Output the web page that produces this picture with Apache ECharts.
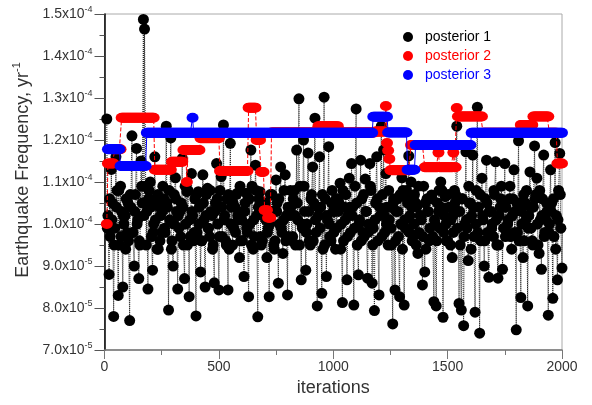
<!DOCTYPE html>
<html>
<head>
<meta charset="utf-8">
<script src="https://cdn.jsdelivr.net/npm/echarts@6/dist/echarts.min.js"></script>
<style>
html,body{margin:0;padding:0;background:#fff;}
#chart{width:592px;height:405px;}
</style>
</head>
<body>
<div id="chart"></div>
<script>
// Values are in units of 1e-5 yr^-1
const iterStart = 10;
const iterStep = 5;
const post1 = [
12.5,10.2, 8.8,9.7, 11.3,10.5, 7.8,9.9, 11.6,10.8, 8.3,9.5, 10.9,10.3, 8.5,10.0, 10.2,10.6, 9.8,9.6,
7.7,10.4, 12.1,9.8, 9.0,10.7, 11.8,10.1, 8.7,9.5, 11.5,10.5, 14.87,14.64, 10.9,10.3, 8.45,10.8, 11.0,9.7,
8.9,10.0, 11.6,10.6, 9.4,9.4, 10.4,10.2, 9.8,10.9, 10.6,9.8, 12.33,10.4, 7.95,10.1, 12.05,9.6, 9.0,10.7,
11.1,10.3, 8.45,9.9, 10.3,10.5, 11.56,9.5, 8.7,10.0, 10.77,10.8, 8.27,9.7, 11.2,10.2, 9.6,10.6, 7.81,9.8,
10.77,10.4, 8.86,9.6, 11.17,10.1, 8.5,10.7, 10.85,9.9, 9.7,10.3, 10.2,9.5, 8.6,10.5, 11.44,10.0, 8.43,10.8,
11.13,9.7, 12.36,10.2, 9.6,10.6, 8.43,9.4, 11.92,10.4, 9.5,9.9, 10.4,10.7, 10.73,10.1, 9.2,9.6, 10.1,10.3,
8.75,10.5, 10.73,9.8, 8.27,10.0, 11.76,10.9, 9.4,9.7, 11.4,10.2, 7.79,10.6, 10.77,9.5, 9.6,10.4, 10.5,10.1,
9.2,9.9, 8.27,10.7, 10.3,10.3, 9.5,9.6, 11.05,10.5, 8.59,10.0, 11.36,9.8, 9.3,10.8, 11.17,10.2, 8.31,9.7,
10.2,10.4, 9.6,10.6, 10.8,9.5, 11.76,10.1, 12.98,10.9, 8.67,9.9, 12.0,10.3, 8.9,10.0, 11.69,9.6, 9.5,10.7,
11.36,10.5, 12.52,9.8, 8.05,10.2, 11.6,10.4, 8.35,9.4, 13.02,10.6, 8.75,10.1, 11.84,9.7, 9.6,10.8, 10.3,10.3,
9.4,9.9, 10.6,10.5, 10.97,10.0, 8.13,9.6, 10.4,10.7, 8.67,10.2, 11.09,9.8, 11.44,10.4, 8.07,10.9, 12.74,9.5,
8.79,10.1, 11.52,10.6, 9.8,9.7, 11.07,10.3, 8.71,10.0, 11.44,10.8, 8.59,9.9, 7.94,10.5, 11.6,9.6, 8.31,10.2,
12.33,10.7, 11.76,9.8, 11.2,10.4, 9.5,10.1, 10.4,9.5, 7.62,10.6, 8.43,10.3, 10.6,9.7, 8.27,10.0, 11.1,10.8,
8.07,9.9, 10.8,10.5, 11.62,10.2, 11.0,9.6, 9.7,10.7, 10.5,10.4, 9.3,9.8, 10.2,10.1, 8.55,10.9, 8.86,9.4,
10.6,10.3, 9.6,10.6, 10.69,9.7, 8.15,10.0, 8.05,10.5, 10.3,9.9, 11.0,10.8, 7.78,10.2, 10.65,9.6, 9.6,10.4,
10.4,10.1, 9.2,9.8, 10.8,10.7, 12.33,10.3, 8.11,9.5, 7.95,10.6, 7.58,10.0, 11.72,9.9, 9.13,10.5, 10.5,10.2,
11.64,9.7, 7.9,10.8, 12.78,10.4, 7.4,9.6, 11.09,10.1, 9.0,10.6, 11.52,9.8, 8.73,10.3, 10.3,10.0, 9.7,10.7,
11.48,9.5, 8.71,10.2, 10.4,10.9, 8.92,9.9, 11.44,10.4, 9.8,10.1, 10.6,9.7, 9.4,10.6, 11.29,10.3, 7.48,9.8,
11.98,10.5, 8.25,10.0, 9.2,9.6, 10.5,10.8, 8.05,10.2, 11.24,9.9, 9.6,10.4, 11.86,10.7, 11.09,9.5, 9.3,10.1,
8.92,10.6, 11.64,9.8, 10.1,10.3, 7.83,10.0, 11.29,10.5, 8.23,9.7, 11.94,10.2, 8.67,10.8, 11.68,9.9,
8.95
];
// extra samples of the dense central band, at iterations 12.5, 22.5, 32.5, ...
const bandStart = 12.5;
const bandStep = 10;
const post1Band = [
9.9,10.6,10.1,9.5,10.4,10.8,9.7,10.2,9.4,10.5,
10.7,9.8,10.3,10.0,9.6,10.9,10.2,9.5,10.6,10.4,
9.8,10.1,10.7,9.6,10.3,9.9,10.5,10.8,9.4,10.0,
10.6,10.2,9.7,10.4,10.9,9.5,10.1,10.3,9.8,10.7,
10.0,9.6,10.5,10.2,9.9,10.8,9.4,10.3,10.6,9.7,
10.4,10.1,9.5,10.7,10.0,10.5,9.8,10.2,10.9,9.6,
10.3,9.9,10.6,9.5,10.1,10.8,10.4,9.7,10.2,10.5,
9.8,10.0,10.7,9.4,10.3,10.6,9.9,10.1,9.6,10.4,
10.8,9.7,10.2,10.5,9.5,10.0,10.9,9.8,10.3,10.6,
9.6,10.1,10.4,9.9,10.7,9.5,10.2,10.0,10.5,9.8,
10.6,10.3,9.4,10.8,10.1,9.7,10.4,10.2,9.9,10.5,
10.0,9.6,10.7,10.3,9.8,10.9,9.5,10.1,10.6,10.4,
9.7,10.2,10.0,10.8,9.9,10.5,9.6,10.3,10.7,9.4,
10.1,10.6,9.8,10.4,10.0,9.5,10.9,10.2,9.7,10.5,
10.3,9.9,10.6,10.1,9.6,10.8,10.4,9.8,10.0,10.7,
9.5,10.2,10.5,9.9,10.3,10.6,9.7,10.1,10.9,9.4,
10.4,10.0,9.8,10.7,10.2,9.6,10.5,10.3,9.9,10.8,
10.1,9.5,10.6,10.4,9.7,10.0,10.9,10.2,9.8,10.5,
9.6,10.3,10.7,10.1,9.9,10.4,9.5,10.6,10.0,10.8,
10.2,9.7,10.5,9.8,10.3,10.6,9.4,10.1,10.7,9.9
];
// [first iteration, last iteration, value] : chain stays at value over this range
const post2Runs = [
[10,10,10.0],[15,40,11.44],[45,70,11.78],[75,215,12.53],[220,290,11.29],[295,340,11.48],
[345,355,11.76],[360,360,11.0],[365,415,11.76],[420,500,12.04],[505,625,11.26],[630,660,12.77],
[665,680,12.0],[685,695,11.24],[700,710,10.33],[715,725,10.15],[730,930,12.18],[935,1020,12.33],
[1025,1180,12.18],[1185,1225,12.2],[1230,1230,12.81],[1235,1235,11.93],[1240,1240,11.75],
[1245,1245,11.55],[1250,1335,11.28],[1340,1395,11.88],[1400,1455,11.35],[1460,1460,11.7],
[1465,1520,11.35],[1525,1525,11.7],[1530,1535,11.35],[1540,1540,12.76],[1545,1650,12.56],
[1655,1815,12.17],[1820,1870,12.36],[1875,1940,12.56],[1945,1975,12.17],[1980,2000,11.44]
];
const post3Runs = [
[15,65,11.78],[70,180,11.38],[185,380,12.17],[385,385,12.53],[390,1170,12.17],
[1175,1235,12.555],[1240,1320,12.18],[1325,1355,11.29],[1360,1600,11.88],[1605,2000,12.17]
];
const seriesNames = ['posterior 1','posterior 2','posterior 3'];
const seriesColors = ['#000000','#ff0000','#0000ff'];
const xTicks = [0, 500, 1000, 1500, 2000];
const yTickLabels = [['7.0x10','-5'],['8.0x10','-5'],['9.0x10','-5'],['1.0x10','-4'],['1.1x10','-4'],
  ['1.2x10','-4'],['1.3x10','-4'],['1.4x10','-4'],['1.5x10','-4']];

function expandRuns(runs){
  const out = [];
  runs.forEach(r => { for (let it = r[0]; it <= r[1]; it += iterStep) out.push([it, r[2]]); });
  return out;
}
const d1 = post1.map((v,i) => [iterStart + i*iterStep, v])
  .concat(post1Band.map((v,j) => [bandStart + j*bandStep, v]))
  .sort((a,b) => a[0]-b[0]);
const d2 = expandRuns(post2Runs);
const d3 = expandRuns(post3Runs);

const FONT = "'Liberation Sans', Arial, sans-serif";
const chart = echarts.init(document.getElementById('chart'), null, {renderer:'canvas'});
chart.setOption({
  animation:false,
  backgroundColor:'#fff',
  textStyle:{fontFamily:FONT},
  grid:{left:104.5, right:30, top:14, bottom:55, show:true, borderColor:'#aaa', borderWidth:1, containLabel:false, outerBoundsMode:'none'},
  legend:{
    orient:'vertical', left:398, top:25, itemWidth:24, itemHeight:10, itemGap:5, icon:'circle',
    textStyle:{fontFamily:FONT, fontSize:14},
    data:seriesNames.map((n,i)=>({name:n, textStyle:{color:seriesColors[i]}}))
  },
  xAxis:{
    type:'value', min:xTicks[0], max:xTicks[xTicks.length-1], interval:xTicks[1]-xTicks[0],
    axisLine:{show:true, lineStyle:{color:'#777', width:1.5}},
    axisTick:{show:true, length:9, lineStyle:{color:'#777'}},
    minorTick:{show:true, splitNumber:2, length:5, lineStyle:{color:'#777'}},
    splitLine:{show:false},
    axisLabel:{margin:10, fontSize:14, color:'#333', fontFamily:FONT, formatter:function(v){return String(v);}},
    name:'iterations', nameLocation:'middle', nameGap:27,
    nameTextStyle:{fontSize:18, color:'#333', fontFamily:FONT}
  },
  yAxis:{
    type:'value', min:7, max:15, interval:1,
    axisLine:{show:true, lineStyle:{color:'#000', width:1.5}},
    axisTick:{show:true, length:10, lineStyle:{color:'#555'}},
    minorTick:{show:true, splitNumber:2, length:5, lineStyle:{color:'#555'}},
    splitLine:{show:false},
    axisLabel:{
      margin:12, color:'#333', fontFamily:FONT,
      formatter:function(v){ const t = yTickLabels[Math.round(v-7)]; return t ? '{m|'+t[0]+'}{s|'+t[1]+'}' : ''; },
      rich:{ m:{fontSize:14, lineHeight:18, color:'#333', fontFamily:FONT},
             s:{fontSize:9, lineHeight:10, verticalAlign:'top', color:'#333', fontFamily:FONT} }
    },
    name:'{a|Earthquake Frequency, yr}{b|-1}', nameLocation:'middle', nameGap:70,
    nameTextStyle:{
      padding:[0,0,0,24],
      rich:{ a:{fontSize:18, lineHeight:22, color:'#333', fontFamily:FONT},
             b:{fontSize:11, lineHeight:12, verticalAlign:'top', color:'#333', fontFamily:FONT} }
    }
  },
  series:[
    {name:seriesNames[0], type:'line', data:d1, symbol:'circle', symbolSize:11, showAllSymbol:true,
     itemStyle:{color:seriesColors[0]}, lineStyle:{color:'#222', width:1, type:'dotted'}, z:2},
    {name:seriesNames[1], type:'line', data:d2, symbol:'circle', symbolSize:[12,10], showAllSymbol:true,
     itemStyle:{color:seriesColors[1]}, lineStyle:{color:'#ff0000', width:1, type:'dashed'}, z:3},
    {name:seriesNames[2], type:'line', data:d3, symbol:'circle', symbolSize:[12,10], showAllSymbol:true,
     itemStyle:{color:seriesColors[2]}, lineStyle:{color:'#0000ff', width:1}, z:4}
  ]
});
</script>
</body>
</html>
